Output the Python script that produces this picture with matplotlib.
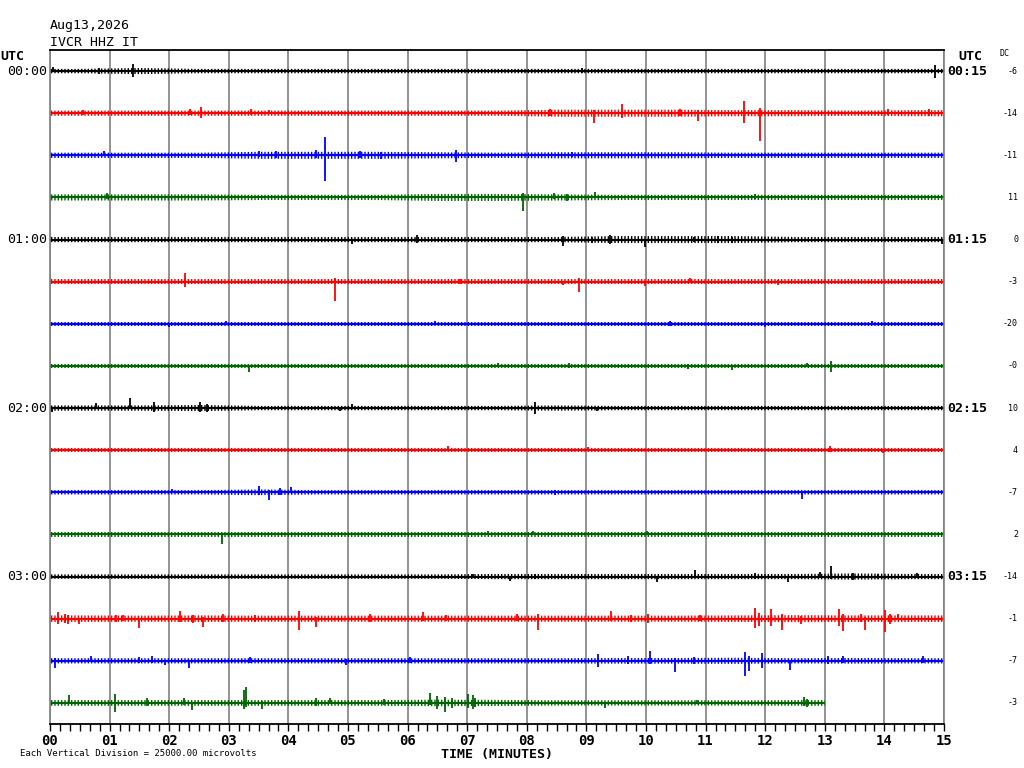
"""
Helicorder plot of IVCR HHZ IT
"""
import numpy as np
import matplotlib
matplotlib.use('Agg')
import matplotlib.pyplot as plt
from matplotlib.ticker import MultipleLocator
from matplotlib.transforms import blended_transform_factory

# --- data -------------------------------------------------------------
station = 'IVCR HHZ IT'
day = 'Aug13,2026'
div_mv = 25.0          # one vertical division (row spacing) = 25000 microvolts
minutes = 15
left_times = ['00:00', '01:00', '02:00', '03:00']
right_times = ['00:15', '01:15', '02:15', '03:15']
dc_offsets = ['-6', '-14', '-11', '11', '0', '-3', '-20', '-0',
              '10', '4', '-7', '2', '-14', '-1', '-7', '-3']
trace_colors = ['black', 'red', 'blue', 'darkgreen']

# background noise half-amplitude per minute (mV)
noise = [
    [1.0, 1.4, 1.0, 1.0, 1.0, 1.0, 1.0, 1.0, 1.0, 1.0, 1.0, 1.0, 1.0, 1.0, 1.0],
    [1.2, 1.2, 1.2, 1.2, 1.2, 1.2, 1.2, 1.2, 1.6, 1.6, 1.6, 1.4, 1.4, 1.2, 1.4],
    [1.2, 1.2, 1.2, 1.6, 1.6, 1.6, 1.4, 1.2, 1.4, 1.4, 1.4, 1.2, 1.2, 1.2, 1.2],
    [1.4, 1.4, 1.4, 1.2, 1.2, 1.2, 1.6, 1.6, 1.4, 1.2, 1.2, 1.2, 1.2, 1.2, 1.2],
    [1.2, 1.2, 1.2, 1.2, 1.2, 1.2, 1.2, 1.2, 1.2, 1.6, 1.6, 1.6, 1.2, 1.2, 1.2],
    [1.1, 1.1, 1.1, 1.1, 1.1, 1.1, 1.1, 1.1, 1.1, 1.1, 1.1, 1.1, 1.1, 1.1, 1.1],
    [1.0, 1.0, 1.0, 1.0, 1.0, 1.0, 1.0, 1.0, 1.0, 1.0, 1.0, 1.0, 1.0, 1.0, 1.0],
    [1.1, 1.1, 1.1, 1.1, 1.1, 1.1, 1.1, 1.1, 1.1, 1.1, 1.1, 1.1, 1.1, 1.1, 1.1],
    [1.2, 1.2, 1.4, 1.0, 1.0, 1.0, 1.0, 1.0, 1.2, 1.0, 1.0, 1.0, 1.0, 1.0, 1.0],
    [0.9, 0.9, 0.9, 0.9, 0.9, 0.9, 0.9, 0.9, 0.9, 0.9, 0.9, 0.9, 0.9, 0.9, 0.9],
    [1.0, 1.0, 1.0, 1.3, 1.0, 1.0, 1.0, 1.0, 1.0, 1.0, 1.0, 1.0, 1.0, 1.0, 1.0],
    [1.0, 1.0, 1.0, 1.0, 1.0, 1.0, 1.0, 1.0, 1.0, 1.0, 1.0, 1.0, 1.0, 1.0, 1.0],
    [1.0, 1.0, 1.0, 1.0, 1.0, 1.0, 1.0, 1.2, 1.2, 1.2, 1.2, 1.2, 1.2, 1.4, 1.2],
    [1.5, 1.4, 1.5, 1.4, 1.4, 1.4, 1.4, 1.4, 1.4, 1.4, 1.4, 1.5, 1.6, 1.5, 1.5],
    [1.2, 1.2, 1.2, 1.2, 1.2, 1.2, 1.2, 1.2, 1.2, 1.3, 1.3, 1.4, 1.2, 1.3, 1.2],
    [1.3, 1.3, 1.3, 1.3, 1.3, 1.3, 1.5, 1.4, 1.2, 1.2, 1.2, 1.2, 1.3],
]

# spikes per row: (minute, up mV, down mV)
spikes = [
    [(0.05, 2.4, 0.6), (0.82, 1.8, 1.8), (1.40, 4.2, 3.6), (8.93, 1.8, 1.2), (14.85, 3.6, 4.2)],
    [(0.56, 1.8, 1.2), (2.35, 2.4, 1.2), (2.53, 3.6, 3.0), (3.38, 2.4, 1.2), (3.67, 2.0, 0.6),
     (8.39, 2.4, 1.8), (9.13, 1.8, 6.0), (9.60, 5.4, 3.0), (10.57, 2.4, 1.8), (10.88, 1.8, 4.8),
     (11.65, 7.2, 6.0), (11.92, 3.0, 16.8), (14.06, 2.4, 1.2), (14.74, 2.4, 1.8)],
    [(0.91, 2.4, 0.6), (3.50, 2.4, 1.2), (3.80, 2.4, 1.8), (4.47, 3.0, 1.8), (4.62, 10.8, 15.0),
     (5.20, 2.4, 1.8), (5.55, 1.8, 2.4), (6.81, 3.0, 4.2), (8.75, 1.8, 1.2)],
    [(0.95, 2.4, 1.2), (7.94, 2.4, 7.8), (8.45, 2.4, 1.2), (8.67, 1.8, 2.4), (9.14, 3.0, 0.6),
     (11.83, 1.8, 1.2)],
    [(5.06, 0.6, 2.4), (6.15, 3.0, 1.8), (8.61, 2.4, 3.6), (9.10, 1.8, 1.8), (9.40, 3.0, 2.4),
     (9.98, 0.6, 4.2), (10.80, 1.8, 1.2), (11.20, 2.4, 1.8), (11.45, 1.8, 1.8), (14.96, 0.6, 2.4)],
    [(2.27, 5.4, 3.0), (4.78, 2.4, 11.4), (6.88, 1.8, 1.2), (8.61, 0.6, 1.8), (8.88, 2.4, 6.0),
     (9.98, 0.6, 2.4), (10.73, 2.4, 0.6), (12.22, 1.2, 1.8)],
    [(1.99, 0.6, 1.8), (2.96, 1.8, 0.6), (6.46, 1.8, 0.6), (10.40, 1.8, 1.2), (12.00, 1.2, 1.8),
     (13.80, 1.8, 0.6)],
    [(3.34, 0.6, 3.6), (7.52, 1.8, 0.6), (8.70, 1.8, 1.2), (10.71, 1.2, 1.8), (11.45, 0.6, 2.4),
     (12.70, 1.8, 0.6), (13.10, 3.0, 3.6)],
    [(0.03, 0.6, 2.4), (0.77, 3.0, 0.6), (1.35, 6.0, 0.6), (1.74, 3.6, 2.4), (2.52, 3.6, 2.4),
     (2.63, 2.4, 2.4), (4.87, 0.6, 1.8), (5.06, 2.4, 0.6), (8.14, 3.6, 3.6), (9.17, 0.6, 1.8)],
    [(6.68, 2.4, 0.6), (9.03, 1.8, 0.6), (13.09, 2.4, 1.2), (13.98, 0.6, 1.8)],
    [(2.04, 1.8, 0.6), (3.50, 3.6, 1.8), (3.68, 1.2, 4.8), (3.86, 2.4, 1.8), (4.04, 3.0, 0.6),
     (8.47, 1.2, 1.8), (12.62, 0.6, 4.2)],
    [(2.89, 0.6, 5.4), (7.35, 1.8, 0.6), (8.11, 1.8, 0.6), (10.01, 1.8, 0.6)],
    [(7.10, 1.8, 0.6), (7.72, 0.6, 2.4), (8.14, 1.8, 1.2), (10.18, 0.6, 3.0), (10.82, 3.6, 0.6),
     (11.83, 2.4, 1.2), (12.39, 0.6, 3.0), (12.92, 3.0, 0.6), (13.11, 6.0, 1.2), (13.48, 2.4, 1.8),
     (13.90, 1.8, 1.2), (14.55, 2.4, 0.6)],
    [(0.14, 4.2, 3.0), (0.25, 3.0, 2.4), (0.31, 2.4, 3.0), (0.48, 0.6, 3.0), (1.10, 2.4, 1.8),
     (1.23, 2.4, 1.2), (1.50, 0.6, 5.4), (2.18, 4.8, 1.8), (2.40, 2.4, 2.4), (2.57, 1.2, 4.8),
     (2.91, 3.0, 1.8), (3.44, 2.4, 1.8), (4.17, 4.8, 6.6), (4.47, 1.2, 4.8), (5.37, 3.0, 1.8),
     (6.25, 4.2, 1.2), (6.65, 2.4, 1.2), (7.83, 3.0, 1.2), (8.19, 3.0, 6.6), (9.42, 4.8, 1.2),
     (9.75, 2.4, 1.8), (10.04, 3.0, 2.4), (10.90, 2.4, 1.2), (11.83, 6.6, 5.4), (11.90, 3.6, 4.2),
     (12.10, 6.0, 4.2), (12.28, 3.0, 6.6), (12.60, 1.8, 3.0), (13.23, 6.0, 4.2), (13.31, 3.0, 7.2),
     (13.60, 3.0, 1.8), (13.68, 1.2, 6.6), (14.01, 5.4, 7.8), (14.09, 3.0, 3.0), (14.23, 3.0, 0.6)],
    [(0.08, 1.8, 4.2), (0.69, 3.0, 0.6), (1.50, 2.4, 1.2), (1.71, 3.0, 1.2), (1.93, 0.6, 2.4),
     (2.34, 0.6, 4.2), (3.36, 2.4, 1.2), (4.97, 1.2, 2.4), (6.04, 2.4, 1.2), (9.20, 4.2, 3.6),
     (9.70, 3.0, 1.8), (10.06, 6.0, 1.8), (10.49, 1.8, 6.6), (10.80, 2.4, 1.8), (11.66, 5.4, 9.0),
     (11.72, 3.0, 6.0), (11.94, 4.8, 4.2), (12.42, 0.6, 5.4), (13.06, 3.0, 1.8), (13.31, 3.0, 1.2),
     (14.65, 3.0, 1.2)],
    [(0.32, 4.8, 0.6), (1.09, 5.4, 5.4), (1.62, 3.0, 1.8), (2.24, 3.0, 1.2), (2.38, 0.6, 4.2),
     (3.25, 7.8, 3.6), (3.29, 9.6, 2.4), (3.56, 1.2, 3.6), (4.47, 3.0, 1.8), (4.70, 3.0, 0.6),
     (5.60, 2.4, 1.2), (6.38, 6.0, 1.2), (6.50, 4.2, 3.6), (6.63, 3.6, 5.4), (6.75, 3.0, 3.0),
     (7.02, 5.4, 3.0), (7.10, 4.8, 3.6), (7.13, 3.0, 2.4), (9.31, 0.6, 3.0), (10.85, 1.8, 0.6),
     (12.65, 3.6, 1.8), (12.70, 2.4, 2.4)],
]

# --- plot -------------------------------------------------------------
plt.rcParams['font.family'] = 'DejaVu Sans Mono'
plt.rcParams['hatch.linewidth'] = 1.0

fig = plt.figure(figsize=(10.24, 7.68), dpi=100)
ax = fig.add_axes([50 / 1024, 44 / 768, 894 / 1024, 674 / 768])
nrows = len(noise)

for i in range(nrows):
    c = trace_colors[i % 4]
    y0 = -i
    lev = np.array(noise[i]) * 1.3 / div_mv
    n = len(lev)
    # band through the minute centres, pinned at the trace ends
    xs = np.concatenate([[0], np.arange(n) + 0.5, [n]])
    ls = np.concatenate([[lev[0]], lev, [lev[-1]]])
    plt.rcParams['hatch.color'] = c
    ax.fill_between(xs, y0 - ls, y0 + ls, facecolor='none', edgecolor=c,
                    hatch='|||||', lw=0)
    ax.plot([0, n], [y0, y0], color=c, lw=1.6, solid_capstyle='butt')
    for m, up, dn in spikes[i]:
        ax.vlines(m, y0 - dn / div_mv, y0 + up / div_mv, color=c, lw=1.3)

ax.set_xlim(0, minutes)
ax.set_ylim(-nrows + 0.5, 0.5)
ax.set_yticks([])
ax.xaxis.set_minor_locator(MultipleLocator(1 / 6))
ax.set_xticks(range(minutes + 1))
ax.set_xticklabels(['%02d' % m for m in range(minutes + 1)], fontweight='bold', fontsize=10)
ax.tick_params(axis='x', which='both', direction='out', length=5, width=1, pad=2)
ax.grid(axis='x', which='major', color='gray', lw=1.2)
ax.set_axisbelow(True)
for s in ['left', 'right']:
    ax.spines[s].set_color('gray')
    ax.spines[s].set_linewidth(1.2)
for s in ['top', 'bottom']:
    ax.spines[s].set_color('black')
    ax.spines[s].set_linewidth(1.3)
ax.set_xlabel('TIME (MINUTES)', fontweight='bold', fontsize=9.5, labelpad=0)

# row labels
for k, lab in enumerate(left_times):
    ax.text(-0.04, -4 * k, lab, ha='right', va='center', fontsize=9.5)
for k, lab in enumerate(right_times):
    ax.text(15.05, -4 * k, lab, ha='left', va='center', fontsize=9.5,
            fontweight='bold')
dc_tr = blended_transform_factory(fig.transFigure, ax.transData)
for i, lab in enumerate(dc_offsets):
    ax.text(1018 / 1024, -i, lab, ha='right', va='center', fontsize=6, transform=dc_tr)

fig.text(0 / 1024, 1 - 57 / 768, 'UTC', ha='left', va='center', fontsize=9.5, fontweight='bold')
fig.text(958 / 1024, 1 - 57 / 768, 'UTC', ha='left', va='center', fontsize=9.5, fontweight='bold')
fig.text(1000 / 1024, 1 - 54 / 768, 'DC', ha='left', va='center', fontsize=6)
fig.text(50 / 1024, 1 - 26 / 768, day, ha='left', va='center', fontsize=9.5)
fig.text(50 / 1024, 1 - 42 / 768, station, ha='left', va='center', fontsize=9.5)
fig.text(20 / 1024, 1 - 754 / 768, 'Each Vertical Division = %.2f microvolts' % (div_mv * 1000),
         ha='left', va='center', fontsize=6.5)

fig.savefig('out.png', dpi=100, facecolor='white')
